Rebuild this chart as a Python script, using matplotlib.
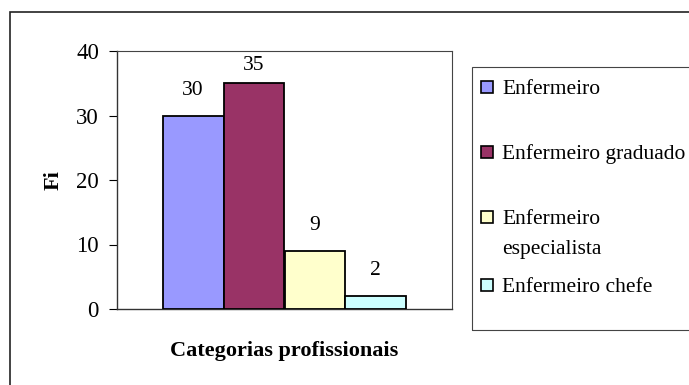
import matplotlib
matplotlib.use("Agg")
import matplotlib.pyplot as plt
from matplotlib.patches import Rectangle

categories = ["Enfermeiro", "Enfermeiro graduado", "Enfermeiro\nespecialista", "Enfermeiro chefe"]
values = [30, 35, 9, 2]
colors = ["#9999FF", "#993366", "#FFFFCC", "#CCFFFF"]
yticks = [0, 10, 20, 30, 40]

W, H = 689, 385
plt.rcParams["font.family"] = ["Liberation Serif", "DejaVu Serif"]

fig = plt.figure(figsize=(W / 100, H / 100), dpi=100)


def fx(x):
    return x / W


def fy(y):
    return 1 - y / H


# outer chart frame (runs past the right and bottom edges)
fig.patches.append(Rectangle((fx(10), fy(400)), fx(700), fy(12) - fy(400),
                             transform=fig.transFigure, fill=False,
                             edgecolor="#222222", linewidth=1.2))

ax = fig.add_axes([fx(117), fy(309), fx(452) - fx(117), fy(51) - fy(309)])

n = len(values)
bw = 1 / (n + 1.5)
xs = [0.5 + (i - (n - 1) / 2) * bw for i in range(n)]
ax.bar(xs, values, width=bw, color=colors, edgecolor="black", linewidth=1.3, zorder=3)

# value labels sit above each bar, kept inside the plot area
ymax = 40
label_gap = 3.9
label_ceiling = 37.8
for x, v in zip(xs, values):
    ax.text(x, min(v + label_gap, label_ceiling), str(v), ha="center",
            va="center", fontsize=15.5)

ax.set_xlim(0, 1)
ax.set_ylim(0, ymax)
ax.set_yticks(yticks)
ax.set_xticks([])
ax.tick_params(axis="y", labelsize=16.5, length=6, width=0.8, direction="out", pad=7)
for s in ["top", "right"]:
    ax.spines[s].set_color("#444444")
    ax.spines[s].set_linewidth(0.8)
for s in ["left", "bottom"]:
    ax.spines[s].set_color("#333333")
    ax.spines[s].set_linewidth(1.0)
ax.set_ylabel("Fi", fontsize=16, fontweight="bold", labelpad=9)
ax.set_xlabel("Categorias profissionais", fontsize=16, fontweight="bold", labelpad=23)

# legend box and entries
fig.patches.append(Rectangle((fx(472), fy(330)), fx(700) - fx(472), fy(67) - fy(330),
                             transform=fig.transFigure, fill=False,
                             edgecolor="#444444", linewidth=0.8))
entry_y = [87, 152, 217, 285]
line_step = 30
for lab, col, y in zip(categories, colors, entry_y):
    fig.patches.append(Rectangle((fx(481), fy(y + 6)), fx(12), fy(0) - fy(12),
                                 transform=fig.transFigure, facecolor=col,
                                 edgecolor="black", linewidth=1.2))
    for k, line in enumerate(lab.split("\n")):
        fig.text(fx(502), fy(y + 7 + k * line_step), line, fontsize=15.5,
                 ha="left", va="baseline")

fig.savefig("out.png", dpi=100)
